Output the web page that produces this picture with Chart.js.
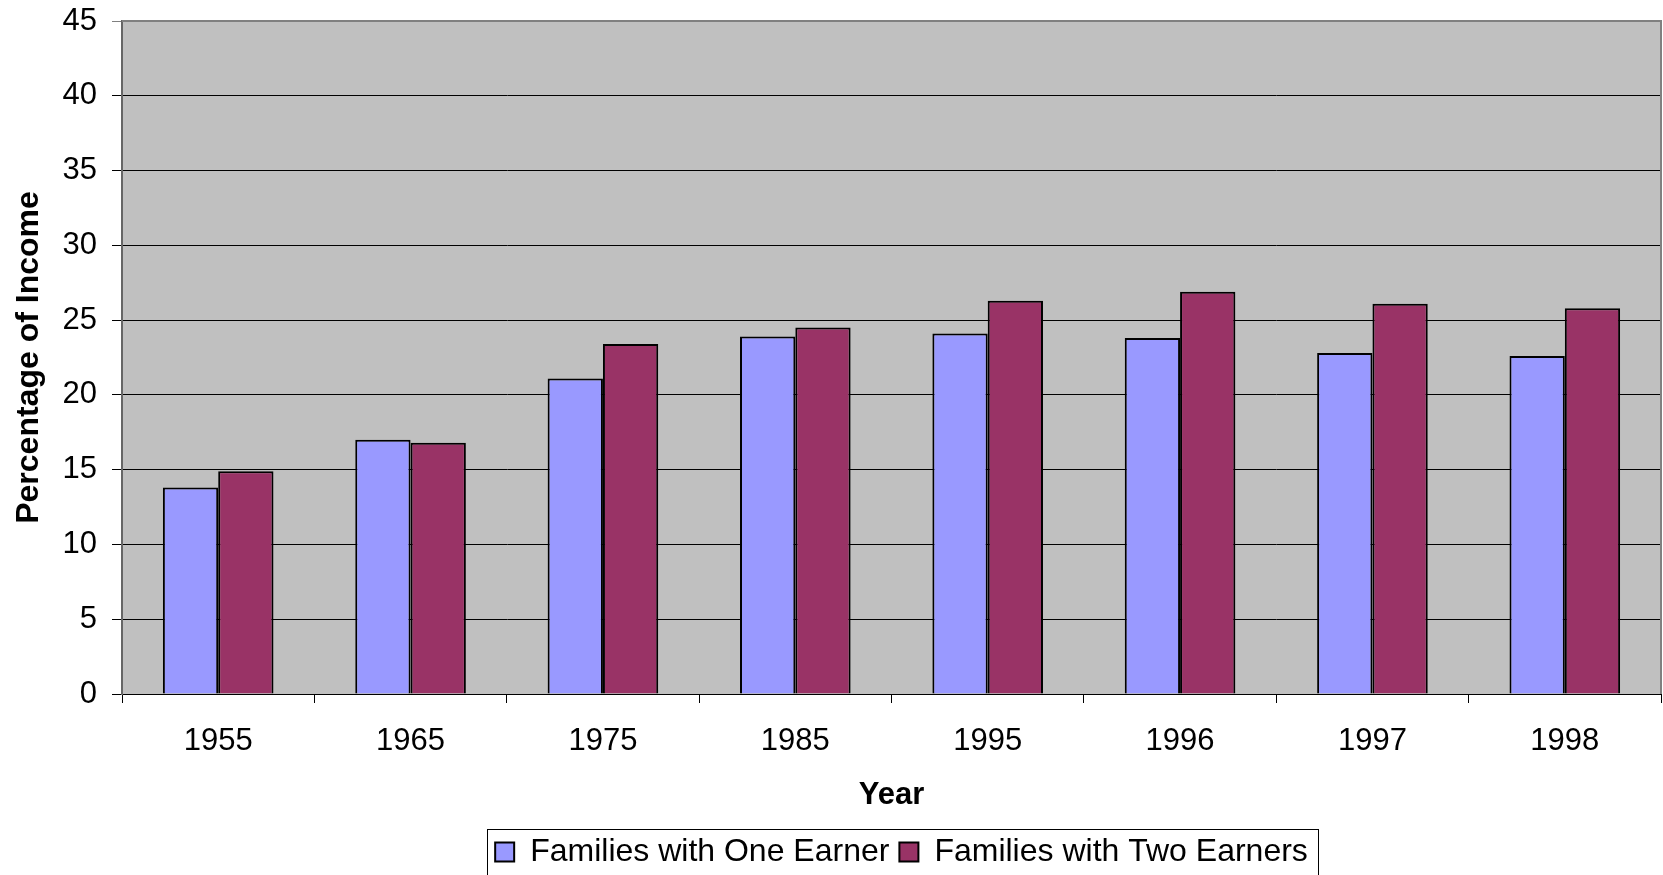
<!DOCTYPE html>
<html><head><meta charset="utf-8">
<script src="https://cdn.jsdelivr.net/npm/chart.js@4"></script>
<style>html,body{margin:0;padding:0;background:#fff}canvas{display:block}</style>
</head><body>
<canvas id="c" width="1663" height="875"></canvas>
<script>
const categories = ['1955','1965','1975','1985','1995','1996','1997','1998'];
const oneEarner = [13.8, 17.0, 21.1, 23.9, 24.1, 23.8, 22.8, 22.6];
const twoEarners = [14.9, 16.8, 23.4, 24.5, 26.3, 26.9, 26.1, 25.8];
const seriesNames = ['Families with One Earner', 'Families with Two Earners'];
const yMin = 0, yMax = 45, yStep = 5;
const xTitle = 'Year';
const yTitle = 'Percentage of Income';

const FONT = "'Liberation Sans', Arial, sans-serif";

const plotStyle = {
  id: 'plotStyle',
  afterLayout(chart) {
    const a = chart.chartArea;
    const L = chart.legend;
    if (L) {
      const d = (a.left + a.right) / 2 + 10 - (L.left + L.right) / 2;
      L.left += d; L.right += d;
      L.top += 3; L.bottom += 3;
    }
  },
  beforeDraw(chart) {
    const {ctx, chartArea: a} = chart;
    ctx.save();
    ctx.fillStyle = '#C0C0C0';
    ctx.fillRect(a.left, a.top, a.right - a.left, a.bottom - a.top);
    ctx.restore();
  },
  afterDraw(chart) {
    const {ctx, chartArea: a} = chart;
    ctx.save();
    ctx.strokeStyle = '#808080';
    ctx.lineWidth = 2;
    ctx.beginPath();
    ctx.moveTo(a.left, a.top);
    ctx.lineTo(a.right, a.top);
    ctx.lineTo(a.right, a.bottom);
    ctx.stroke();
    const L = chart.legend;
    if (L && L.lineWidths) {
      const pad = L.options.labels.padding;
      const lw = L.lineWidths[0];
      const x0 = (L.left + pad + L.right - lw) / 2;
      const x1 = x0 + lw - pad;
      ctx.strokeStyle = '#000';
      ctx.lineWidth = 1;
      ctx.strokeRect(Math.round(x0 - 8) + 0.5, Math.round(L.top + 3) + 0.5, Math.round(x1 - x0 + 18), Math.round(L.bottom - L.top - 5));
    }
    ctx.restore();
  }
};

new Chart(document.getElementById('c'), {
  type: 'bar',
  data: {
    labels: categories,
    datasets: [
      { label: seriesNames[0], data: oneEarner, backgroundColor: '#9999FF', borderColor: '#000', borderWidth: 2, borderSkipped: 'bottom' },
      { label: seriesNames[1], data: twoEarners, backgroundColor: '#993366', borderColor: '#000', borderWidth: 2, borderSkipped: 'bottom' }
    ]
  },
  options: {
    responsive: false,
    animation: false,
    events: [],
    layout: { padding: { top: 21, right: 2, left: 0, bottom: 0 } },
    datasets: { bar: { categoryPercentage: 0.575, barPercentage: 1.0 } },
    plugins: {
      tooltip: { enabled: false },
      legend: {
        position: 'bottom',
        labels: {
          font: { family: FONT, size: 32 },
          color: '#000',
          boxWidth: 19,
          boxHeight: 19,
          padding: 10
        }
      }
    },
    scales: {
      x: {
        grid: { display: true, drawOnChartArea: false, drawTicks: true, tickLength: 9, color: '#000', offset: true },
        border: { display: true, color: '#000', width: 1 },
        ticks: { font: { family: FONT, size: 31 }, color: '#000', padding: 20, maxRotation: 0 },
        title: { display: true, text: xTitle, font: { family: FONT, size: 31, weight: 'bold' }, color: '#000', padding: { top: 0, bottom: 9 } },
        afterFit(scale) { scale.height = 129; scale.paddingLeft = 0; scale.paddingRight = 0; }
      },
      y: {
        min: yMin, max: yMax,
        ticks: { stepSize: yStep, font: { family: FONT, size: 31 }, color: '#000', padding: 15 },
        grid: {
          color: (c) => (c.tick && c.tick.value === yMax) ? '#808080' : '#000',
          lineWidth: 1,
          tickLength: 10,
          drawTicks: true
        },
        border: { display: true, color: '#666', width: 2 },
        title: { display: true, text: yTitle, font: { family: FONT, size: 32, weight: 'bold' }, color: '#000', padding: { top: 10, bottom: 0 } },
        afterFit(scale) { scale.width = 122; scale.paddingTop = 0; scale.paddingBottom = 0; }
      }
    }
  },
  plugins: [plotStyle]
});
</script>
</body></html>
